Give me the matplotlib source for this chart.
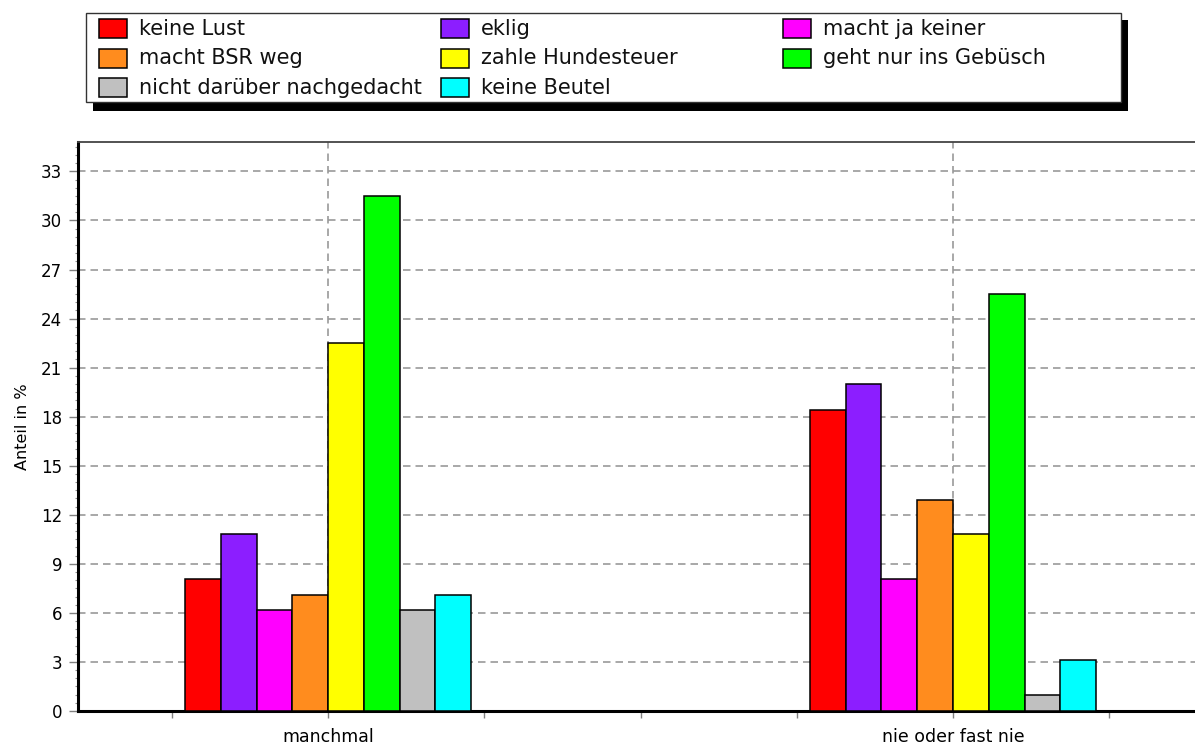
import matplotlib
matplotlib.use("Agg")
import matplotlib.pyplot as plt
from matplotlib.patches import Rectangle
from matplotlib.ticker import MultipleLocator, FixedLocator
import numpy as np

plt.rcParams['font.family'] = ['DejaVu Sans']

# ---- data ----
categories = ["manchmal", "nie oder fast nie"]
series_names = ["keine Lust", "eklig", "macht ja keiner",
                "macht BSR weg", "zahle Hundesteuer", "geht nur ins Gebüsch",
                "nicht darüber nachgedacht", "keine Beutel"]
series_colors = ["#FF0000", "#8C1EFF", "#FF00FF",
                 "#FF8C1E", "#FFFF00", "#00FF00",
                 "#C0C0C0", "#00FFFF"]
values_manchmal = [8.1, 10.8, 6.2, 7.1, 22.5, 31.5, 6.2, 7.1]
values_nie = [18.4, 20.0, 8.1, 12.9, 10.8, 25.5, 1.0, 3.1]
y_ticks = list(range(0, 34, 3))
y_label = "Anteil in %"

W, H = 1195, 744
fig = plt.figure(figsize=(W / 100, H / 100), dpi=100)
fig.patch.set_facecolor("white")

ax = fig.add_axes([78 / W, 1 - 711 / H, (1203 - 78) / W, (711 - 142) / H])

x = np.arange(len(categories))
n = len(series_names)
bw = 0.0572
values = np.array([values_manchmal, values_nie])
for i, (name, col) in enumerate(zip(series_names, series_colors)):
    ax.bar(x + (i - (n - 1) / 2) * bw, values[:, i], width=bw, color=col,
           edgecolor="black", linewidth=1.1, zorder=3)

ax.set_xlim(-0.4, 1.4)
ax.set_ylim(0, 34.8)

ax.set_xticks(x)
ax.set_xticklabels(categories, fontsize=12.5)
ax.xaxis.set_minor_locator(FixedLocator([-0.25, 0.25, 0.5, 0.75, 1.25]))
ax.set_yticks(y_ticks)
ax.set_yticklabels([str(t) for t in y_ticks], fontsize=12)
ax.yaxis.set_minor_locator(MultipleLocator(0.5))

ax.tick_params(axis="x", which="both", direction="out", length=5, width=1,
               color="#808080", pad=7)
ax.tick_params(axis="y", which="major", direction="out", length=6.5, width=1,
               color="#808080", pad=5)
ax.tick_params(axis="y", which="minor", direction="out", length=2.2, width=0.8,
               color="#909090")

ax.grid(True, axis="y", which="major", linestyle=(0, (4.5, 3)),
        color="#999999", linewidth=1.2, zorder=0)
ax.grid(True, axis="x", which="major", linestyle=(0, (4.5, 3)),
        color="#999999", linewidth=1.2, zorder=0)
ax.set_axisbelow(True)

ax.spines["left"].set_linewidth(2.2)
ax.spines["left"].set_color("black")
ax.spines["bottom"].set_linewidth(2.2)
ax.spines["bottom"].set_color("black")
ax.spines["top"].set_linewidth(1.3)
ax.spines["top"].set_color("#444444")
ax.spines["right"].set_visible(False)

ax.set_ylabel(y_label, fontsize=11.5, labelpad=8)

# ---- custom legend (figure pixel coords) ----
def fx(px):
    return px / W

def fy(py):
    return 1 - py / H

fig.patches.append(Rectangle((fx(93), fy(111)), (1128 - 93) / W, (111 - 20) / H,
                             transform=fig.transFigure, facecolor="black",
                             edgecolor="none", zorder=1))
fig.patches.append(Rectangle((fx(86), fy(102)), (1121 - 86) / W, (102 - 12.5) / H,
                             transform=fig.transFigure, facecolor="white",
                             edgecolor="#333333", linewidth=1.0, zorder=2))
for k, (name, col) in enumerate(zip(series_names, series_colors)):
    row, c = k // 3, k % 3
    px = 99 + c * 342
    pyc = 28.8 + row * 29.5
    fig.patches.append(Rectangle((fx(px), fy(pyc + 9.5)), 28 / W, 19 / H,
                                 transform=fig.transFigure, facecolor=col,
                                 edgecolor="black", linewidth=1.1, zorder=3))
    fig.text(fx(px + 40), fy(pyc), name, fontsize=15, va="center", ha="left",
             color="#111111", zorder=4)

fig.savefig("out.png", dpi=100)
